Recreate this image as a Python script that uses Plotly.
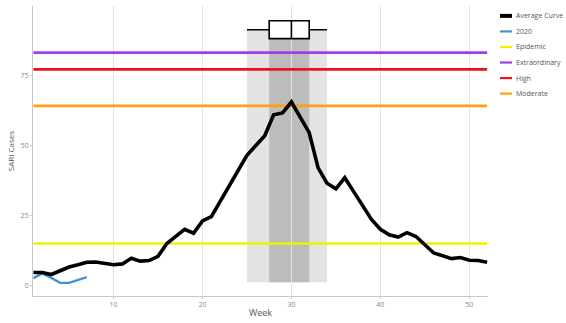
import plotly.graph_objects as go

weeks = list(range(1, 53))
average_curve = [4.5, 4.5, 3.8, 5.3, 6.5, 7.3, 8.2, 8.3, 7.8, 7.3,
                 7.6, 9.6, 8.6, 8.8, 10.3, 14.9, 17.5, 20.0, 18.6, 23.0,
                 24.5, 30.0, 35.0, 41.0, 46.5, 50.0, 53.5, 61.0, 61.7, 65.6,
                 60.0, 54.6, 42.0, 36.5, 34.5, 38.5, 33.5, 28.4, 23.5, 20.0,
                 18.0, 17.2, 18.8, 17.4, 14.5, 11.5, 10.5, 9.5, 9.9, 8.9,
                 8.8, 8.2]
weeks_2020 = [1, 2, 3, 4, 5, 6, 7]
cases_2020 = [2.5, 4.2, 2.6, 0.8, 0.8, 1.8, 2.9]

threshold_names = ["Epidemic", "Extraordinary", "High", "Moderate"]
threshold_values = [14.9, 83.3, 77.3, 64.2]
threshold_colors = ["#f2f200", "#a23fe0", "#e8131b", "#ffa010"]

# peak timing box stats (weeks)
peak_lower, peak_q1, peak_median, peak_q3, peak_upper = 25, 27.5, 30, 32, 34
box_level = 91.5
shade_bottom = 1

x_ticks = [10, 20, 30, 40, 50]
y_ticks = [0, 25, 50, 75]

fig = go.Figure()

# shaded peak windows
fig.add_shape(type="rect", x0=peak_lower, x1=peak_upper, y0=shade_bottom, y1=box_level,
              xref="x", yref="y", fillcolor="#e3e3e3", line_width=0, layer="below")
fig.add_shape(type="rect", x0=peak_q1, x1=peak_q3, y0=shade_bottom, y1=box_level,
              xref="x", yref="y", fillcolor="#bcbcbc", line_width=0, layer="below")

for name, val, col in zip(threshold_names, threshold_values, threshold_colors):
    fig.add_trace(go.Scatter(x=[weeks[0], weeks[-1]], y=[val, val], mode="lines",
                             line=dict(color=col, width=2.6), name=name, showlegend=False,
                             hoverinfo="skip"))

fig.add_trace(go.Scatter(x=weeks_2020, y=cases_2020, mode="lines",
                         line=dict(color="#4a90d0", width=2.4), name="2020", showlegend=False))
fig.add_trace(go.Scatter(x=weeks, y=average_curve, mode="lines",
                         line=dict(color="black", width=3.6), name="Average Curve", showlegend=False))

fig.add_trace(go.Box(y=[box_level], q1=[peak_q1], median=[peak_median], q3=[peak_q3],
                     lowerfence=[peak_lower], upperfence=[peak_upper], orientation="h",
                     width=6.4, whiskerwidth=0, fillcolor="white",
                     line=dict(color="black", width=1.6), showlegend=False, hoverinfo="skip"))

# manual legend
legend_names = ["Average Curve", "2020", "Epidemic", "Extraordinary", "High", "Moderate"]
legend_colors = ["black", "#4a90d0", "#f2f200", "#a23fe0", "#e8131b", "#ffa010"]
legend_widths = [4, 2.2, 2.2, 2.2, 2.2, 2.2]
W, H = 566, 323
T, B = 6, 24
for i, (nm, col, lw) in enumerate(zip(legend_names, legend_colors, legend_widths)):
    ypx = 16 + i * 15.7
    yp = 1 - (ypx - T) / (H - B - T)
    x0p = (500 - 33) / (488 - 33)
    x1p = (512 - 33) / (488 - 33)
    fig.add_shape(type="line", xref="paper", yref="paper", x0=x0p, x1=x1p, y0=yp, y1=yp,
                  line=dict(color=col, width=lw))
    fig.add_annotation(xref="paper", yref="paper", x=(514 - 33) / (488 - 33), y=yp,
                       text=nm, showarrow=False, xanchor="left", yanchor="middle",
                       font=dict(size=7, color="#555555", family="Open Sans"))

fig.update_layout(
    width=W, height=H,
    margin=dict(l=33, r=78, t=T, b=B),
    plot_bgcolor="white", paper_bgcolor="white",
    showlegend=False,
    font=dict(family="Open Sans", color="#555555"),
)
fig.update_xaxes(range=[0.95, 52.1], tickvals=x_ticks, showgrid=True, gridcolor="#e2e2e2",
                 gridwidth=1, zeroline=False, showline=True, linecolor="#c8c8c8", linewidth=1,
                 ticks="outside", ticklen=2, tickcolor="#c8c8c8",
                 tickfont=dict(size=7, color="#8a8a8a"),
                 title=dict(text="Week", font=dict(size=9, color="#555555"), standoff=1))
fig.update_yaxes(range=[-3.9, 100], tickvals=y_ticks, showgrid=False, zeroline=False,
                 showline=True, linecolor="#c8c8c8", linewidth=1,
                 ticks="outside", ticklen=2, tickcolor="#c8c8c8",
                 tickfont=dict(size=7, color="#8a8a8a"),
                 title=dict(text="SARI Cases", font=dict(size=8, color="#555555"), standoff=4))

fig.write_html("out.html", config={"displayModeBar": False},
               post_script="document.body.style.margin='0';document.body.style.padding='0';")
